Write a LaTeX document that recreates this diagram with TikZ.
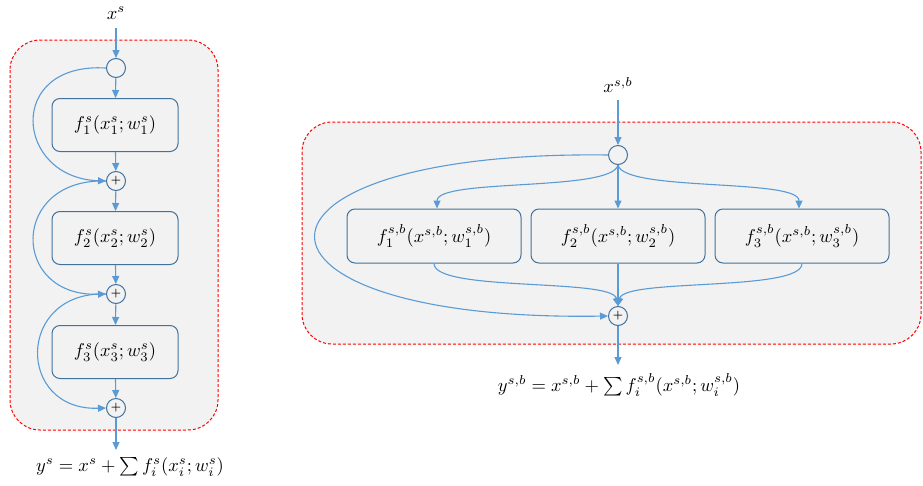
\documentclass[tikz,border=0pt]{standalone}
\usepackage{graphicx}
\usetikzlibrary{arrows.meta}
\definecolor{arr}{HTML}{5B9BD5}
\definecolor{bord}{HTML}{41719C}
\definecolor{bg}{HTML}{F2F2F2}
\newcommand{\mylbl}[1]{\scalebox{1.85}{$#1$}}
\newcommand{\myplus}{\scalebox{1.15}{\textbf{+}}}
\begin{document}
\begin{tikzpicture}[x=1pt,y=-1pt,
  arrow/.style={draw=arr, line width=1.1pt, -{Triangle[length=8pt,width=7pt]}},
  fbox/.style={draw=bord, fill=bg, rounded corners=8pt, line width=1pt, minimum width=126pt, minimum height=53pt},
  junc/.style={circle, draw=bord, fill=bg, line width=1pt, minimum size=19pt, inner sep=0pt},
  region/.style={draw=red, dash pattern=on 3pt off 2pt, fill=bg, rounded corners=30pt, line width=1pt}]
\useasboundingbox (0,0) rectangle (923,485);
% regions
\draw[region] (10,40) rectangle (218,430);
\draw[region] (302,122) rectangle (921,344);
% left panel
\node (xs) at (116,13) {\mylbl{x^s}};
\node[junc] (c0) at (116,68) {};
\node[fbox] (f1) at (115,125) {\mylbl{f_1^s(x_1^s;w_1^s)}};
\node[junc] (p1) at (116,181) {\myplus};
\node[fbox] (f2) at (115,238) {\mylbl{f_2^s(x_2^s;w_2^s)}};
\node[junc] (p2) at (116,294) {\myplus};
\node[fbox] (f3) at (115,352) {\mylbl{f_3^s(x_3^s;w_3^s)}};
\node[junc] (p3) at (116,408) {\myplus};
\coordinate (yo) at (116,450);
\node (ys) at (130,467) {\mylbl{y^s = x^s + \sum f_i^s(x_i^s;w_i^s)}};
\draw[arrow, shorten <=5pt] (xs.south) -- (c0);
\draw[arrow] (c0) -- (f1);
\draw[arrow] (f1) -- (p1);
\draw[arrow] (p1) -- (f2);
\draw[arrow] (f2) -- (p2);
\draw[arrow] (p2) -- (f3);
\draw[arrow] (f3) -- (p3);
\draw[arrow] (p3) -- (yo);
\draw[arrow] (c0.west) .. controls (5,62) and (15,178) .. (p1.west);
\draw[arrow] (p1.west) .. controls (10,178) and (10,297) .. (p2.west);
\draw[arrow] (p2.west) .. controls (16,291) and (16,411) .. (p3.west);
% right panel
\node (xsb) at (618,85) {\mylbl{x^{s,b}}};
\node[junc] (c1) at (618,155) {};
\node[fbox, minimum width=174pt, minimum height=54pt] (g1) at (434,236) {\mylbl{f_1^{s,b}(x^{s,b};w_1^{s,b})}};
\node[fbox, minimum width=174pt, minimum height=54pt] (g2) at (618,236) {\mylbl{f_2^{s,b}(x^{s,b};w_2^{s,b})}};
\node[fbox, minimum width=174pt, minimum height=54pt] (g3) at (802,236) {\mylbl{f_3^{s,b}(x^{s,b};w_3^{s,b})}};
\node[junc] (q) at (618,316) {\myplus};
\coordinate (qo) at (618,365);
\node (ysb) at (619,385) {\mylbl{y^{s,b} = x^{s,b} + \sum f_i^{s,b}(x^{s,b};w_i^{s,b})}};
\draw[arrow, shorten <=4pt] (xsb.south) -- (c1);
\draw[arrow] (c1) -- (g2);
\draw[arrow] (g2) -- (q);
\draw[arrow] (q) -- (qo);
\draw[arrow] (c1.south) .. controls (612,192) and (437,178) .. ([xshift=3pt]g1.north);
\draw[arrow] (c1.south) .. controls (624,192) and (799,178) .. ([xshift=-3pt]g3.north);
\draw[arrow] (g1.south) .. controls (434,292) and (612,278) .. (q.north);
\draw[arrow] (g3.south) .. controls (802,292) and (624,278) .. (q.north);
\draw[arrow] (c1.west) .. controls (218,150) and (218,322) .. (q.west);
\end{tikzpicture}
\end{document}
